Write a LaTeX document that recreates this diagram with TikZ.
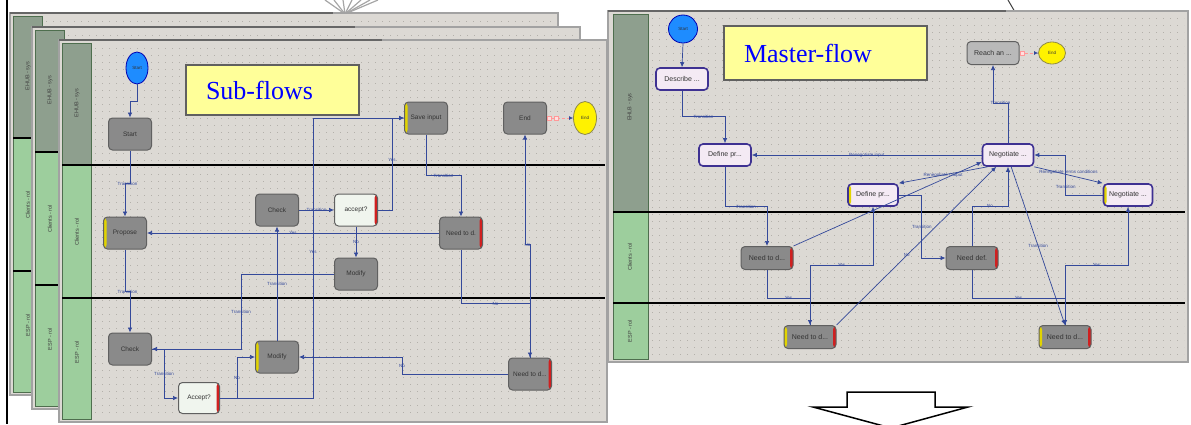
\documentclass[tikz,border=0pt]{standalone}
\usepackage{fontspec}
\setmainfont{Liberation Serif}
\newfontfamily\uifont{Liberation Sans}
\usetikzlibrary{arrows.meta,shapes.geometric}

\definecolor{canvas}{HTML}{DCD9D4}
\definecolor{griddot}{HTML}{B3B0AA}
\definecolor{framegray}{HTML}{A2A2A2}
\definecolor{headsys}{HTML}{8E9F8E}
\definecolor{headrol}{HTML}{9DCE9D}
\definecolor{headline}{HTML}{4E6E4E}
\definecolor{boxgray}{HTML}{8A8A8A}
\definecolor{boxline}{HTML}{606060}
\definecolor{flowblue}{HTML}{34499A}
\definecolor{startblue}{HTML}{1E8CFF}
\definecolor{notefill}{HTML}{FFFF99}
\definecolor{mline}{HTML}{3E3192}
\definecolor{mfill}{HTML}{F4EAF4}
\definecolor{tagyellow}{HTML}{E2D400}
\definecolor{tagred}{HTML}{D02020}
\definecolor{lightbox}{HTML}{F0F5EE}

\tikzset{
  flow/.style={draw=flowblue, line width=0.7pt, -{Latex[length=5pt,width=4.5pt]}},
  endlink/.style={draw=pink!80!red, densely dashed, line width=0.8pt, -{Latex[length=4pt,width=4pt,color=flowblue]}},
  port/.style={draw=pink!80!red, fill=pink!50, minimum size=4pt, inner sep=0pt},
  lbl/.style={font=\uifont\fontsize{4.5}{5}\selectfont, text=flowblue, inner sep=0.5pt},
  lane/.style={rotate=90, font=\uifont\fontsize{5.5}{6}\selectfont, text=black!75},
  griddots/.style={draw=griddot, line width=0.9pt, dash pattern=on 0.9pt off 6.1pt},
  sbox/.style={draw=boxline, fill=boxgray, line width=1pt, rounded corners=4pt, minimum width=43pt, minimum height=32pt, inner sep=1pt, font=\uifont\fontsize{6.5}{7}\selectfont, text=black!80},
  lbox/.style={sbox, fill=lightbox},
  gbox/.style={sbox, minimum width=52pt, minimum height=23pt, font=\uifont\fontsize{7}{8}\selectfont},
  mbox/.style={draw=mline, fill=mfill, line width=1.6pt, rounded corners=4pt, minimum width=52pt, minimum height=22pt, inner sep=1pt, font=\uifont\fontsize{7}{8}\selectfont, text=black!80},
  startell/.style={ellipse, draw=blue!70!black, fill=startblue, line width=0.8pt, minimum width=22pt, minimum height=32pt, inner sep=0pt, font=\uifont\fontsize{4.5}{5}\selectfont, text=black!80},
  endell/.style={startell, draw=yellow!50!black, fill=yellow},
  note/.style={draw=gray!75!black, fill=notefill, line width=1.5pt, inner xsep=20pt, inner ysep=0pt, align=left, text=blue, font=\fontsize{26}{28}\selectfont},
  ytag/.style={path picture={\fill[tagyellow] (path picture bounding box.north west) rectangle ([xshift=3pt]path picture bounding box.south west);}},
  rtag/.style={path picture={\fill[tagred] ([xshift=-3pt]path picture bounding box.north east) rectangle (path picture bounding box.south east);}},
  yrtag/.style={path picture={\fill[tagyellow] (path picture bounding box.north west) rectangle ([xshift=3pt]path picture bounding box.south west);
    \fill[tagred] ([xshift=-3pt]path picture bounding box.north east) rectangle (path picture bounding box.south east);}}
}

\begin{document}
\begin{tikzpicture}[x=1pt,y=-1pt]
  \useasboundingbox (0,0) rectangle (1191,424);
  % left rule and callout lines
  \draw[line width=1.5pt] (7,0) -- (7,424);
  \foreach \fx in {325,334,343,352,361,370,378}
    \draw[gray!70, line width=1.2pt] (345,14) -- (\fx,0);
  \draw[gray!50!black, line width=1pt] (1008,0) -- (1015,12);

  % stacked sub-flow windows
  \foreach \ox/\oy in {10/13,32/27,59/40}{
    \draw[framegray, fill=canvas, line width=2.5pt] (\ox,\oy) rectangle (\ox+548,\oy+382);
    \foreach \d in {0,7,...,364}
      \draw[griddots] (\ox+36,\oy+8+\d) -- (\ox+545,\oy+8+\d);
    \draw[black!60, line width=2.5pt] (\ox,\oy) -- (\ox+323,\oy);
    % lane headers
    \fill[headsys] (\ox+3,\oy+3) rectangle (\ox+32,\oy+125);
    \fill[headrol] (\ox+3,\oy+125) rectangle (\ox+32,\oy+379);
    \draw[headline, line width=1pt] (\ox+3,\oy+3) rectangle (\ox+32,\oy+379);
    % lane dividers
    \draw[line width=1.6pt] (\ox+3,\oy+125) -- (\ox+546,\oy+125);
    \draw[line width=1.6pt] (\ox+3,\oy+258) -- (\ox+546,\oy+258);
    \node[lane] (sys\ox) at (\ox+18,\oy+63) {EHUB - sys};
    \node[lane] (cli\ox) at (\ox+18,\oy+192) {Clients - rol};
    \node[lane] (esp\ox) at (\ox+18,\oy+312) {ESP - rol};
  }

  % master-flow window
  \draw[framegray, fill=canvas, line width=2.5pt] (608,11) rectangle (1188,362);
  \foreach \d in {0,7,...,336}
    \draw[griddots] (652,18+\d) -- (1184,18+\d);
  \draw[black!60, line width=2.5pt] (608,11) -- (1006,11);
  \fill[headsys] (613,14) rectangle (648,212);
  \fill[headrol] (613,212) rectangle (648,359);
  \draw[headline, line width=1pt] (613,14) rectangle (648,359);
  \draw[line width=1.6pt] (613,212) -- (1185,212);
  \draw[line width=1.6pt] (613,303) -- (1185,303);
  \node[lane] (msys) at (630,107) {EHLB - sys};
  \node[lane] (mcli) at (630,257) {Clients - rol};
  \node[lane] (mesp) at (630,331) {ESP - rol};

  % sub-flow nodes
  \node[note, text width=133pt, minimum height=50pt] (subnote) at (272.5,90) {Sub-flows};
  \node[startell] (sstart) at (137,68) {Start};
  \node[sbox] (sbox1) at (130,134) {Start};
  \node[sbox, ytag] (savein) at (426,118) {Save input};
  \node[sbox] (sendbox) at (525,118) {End};
  \node[endell, minimum width=23pt, minimum height=33pt] (sendell) at (585,118) {End};
  \node[sbox, ytag] (propose) at (125,233) {Propose};
  \node[sbox] (checkc) at (277,210) {Check};
  \node[lbox, rtag] (acceptc) at (356,210) {accept?};
  \node[sbox] (modifyc) at (356,274) {Modify};
  \node[sbox, rtag] (needc) at (461,233) {Need to d.};
  \node[sbox] (checke) at (130,349) {Check};
  \node[lbox, rtag, minimum width=41pt, minimum height=31pt] (accepte) at (199,398) {Accept?};
  \node[sbox, ytag] (modifye) at (277,357) {Modify};
  \node[sbox, rtag] (neede) at (530,374) {Need to d...};

  % sub-flow connectors
  \draw[flow] (sstart.south) -- ++(0,17) -| (sbox1.north);
  \draw[flow] (sbox1.south) -- ++(0,33) -| node[lbl,pos=.25] (l1) {Transition} (propose.north);
  \draw[flow] (propose.south) -- ++(0,42) -| node[lbl,pos=.25] (l2) {Transition} (checke.north);
  \draw[flow] (checkc.east) -- node[lbl] (l3) {Transition} (acceptc.west);
  \draw[flow] (acceptc.east) -| node[lbl,pos=.77] (l4) {Yes} (392,118) -- (savein.west);
  \draw[flow] (acceptc.south) -- node[lbl] (l5) {No} (modifyc.north);
  \draw[flow] (modifyc.west) -- ++(-93,0) |- node[lbl,pos=.25] (l6) {Transition} (checke.east);
  \draw[flow] (checke.east) -- ++(12,0) |- node[lbl,pos=.25] (l7) {Transition} (accepte.west);
  \draw[flow] (accepte.east) -| node[lbl,pos=.76] (l8) {Yes} (313,118) -- (savein.west);
  \draw[flow] (accepte.east) -- ++(17,0) |- node[lbl,pos=.25] (l9) {No} (modifye.west);
  \draw[flow] (modifye.north) -- node[lbl] (l10) {Transition} (checkc.south);
  \draw[flow] (neede.west) -- ++(-106,0) |- node[lbl,pos=.25] (l11) {No} (modifye.east);
  \draw[flow] (savein.south) -- ++(0,41) -| node[lbl,pos=.25] (l12) {Transition} (needc.north);
  \draw[flow] (needc.west) -- node[lbl] (l13) {Yes} (propose.east);
  \draw[flow] (needc.south) -- ++(0,54) -| node[lbl,pos=.25] (l14) {No} (neede.north);
  \draw[flow] (neede.north) -- ++(0,-113) -| node[lbl,pos=.25] (l15) {No} (sendbox.south);
  \draw[endlink] (sendbox.east) -- (sendell.west);
  \node[port] (sp1) at ([xshift=2.5pt]sendbox.east) {};
  \node[port] (sp2) at ([xshift=9pt]sendbox.east) {};

  % master-flow nodes
  \node[note, text width=163pt, minimum height=54pt] (mnote) at (825.5,53) {Master-flow};
  \node[startell, minimum width=29pt, minimum height=28pt] (mstart) at (683,29) {Start};
  \node[mbox] (describe) at (682,79) {Describe ...};
  \node[gbox, fill=gray!55] (reach) at (993,53) {Reach an ...};
  \node[endell, minimum width=27pt, minimum height=22pt] (mend) at (1052,53) {End};
  \node[mbox] (define1) at (725,155) {Define pr...};
  \node[mbox, minimum width=51pt] (nego1) at (1008,155) {Negotiate ...};
  \node[mbox, minimum width=50pt, ytag] (define2) at (873,195) {Define pr...};
  \node[mbox, minimum width=49pt, ytag] (nego2) at (1128,195) {Negotiate ...};
  \node[gbox, rtag] (needm1) at (767,258) {Need to d...};
  \node[gbox, rtag] (needdef) at (972,258) {Need def.};
  \node[gbox, yrtag] (needm2) at (810,337) {Need to d...};
  \node[gbox, yrtag] (needm3) at (1065,337) {Need to d...};

  % master-flow connectors
  \draw[flow] (mstart.south) -- (describe.north);
  \draw[flow] (describe.south) -- ++(0,26) -| node[lbl,pos=.25] (m1) {Transition} (define1.north);
  \draw[flow] (nego1.west) -- node[lbl] (m2) {Renegotiate input} (define1.east);
  \draw[flow] (nego1.north) -- ++(0,-40) -| node[lbl,pos=.25] (m3) {Transition} (reach.south);
  \draw[endlink] (reach.east) -- (mend.west);
  \node[port] (mp1) at ([xshift=2.5pt]reach.east) {};
  \draw[flow] (nego1.south east) -- node[lbl,above] (m4) {Renegotiate terms conditions} (nego2.north west);
  \draw[flow] (nego2.west) -- ++(-37,0) |- node[lbl,pos=.1] (m5) {Transition} (nego1.east);
  \draw[flow] (nego1.-150) -- node[lbl] (m6) {Renegotiate Output} (define2.north east);
  \draw[flow] (define2.east) -- ++(23,0) |- node[lbl,pos=.25] (m7) {Transition} (needdef.west);
  \draw[flow] (define1.south) -- ++(0,40) -| node[lbl,pos=.25] (m8) {Transition} (needm1.north);
  \draw[flow] (needm1.north east) -- (nego1.-165);
  \draw[flow] (needm2.north east) -- node[lbl,pos=.44] (m9) {No} (nego1.-135);
  \draw[flow] (needdef.north) -- ++(0,-40) -| node[lbl,pos=.25] (m10) {No} (nego1.south);
  \draw[flow] (nego1.-75) -- node[lbl] (m11) {Transition} (needm3.north);
  \draw[flow] (needm1.south) -- ++(0,28) -| node[lbl,pos=.25] (m12) {Yes} (needm2.north);
  \draw[flow] (needm2.north) -- ++(0,-60) -| node[lbl,pos=.25] (m13) {Yes} (define2.south);
  \draw[flow] (needdef.south) -- ++(0,28) -| node[lbl,pos=.25] (m14) {Yes} (needm3.north);
  \draw[flow] (needm3.north) -- ++(0,-60) -| node[lbl,pos=.25] (m15) {Yes} (nego2.south);

  % down arrow
  \draw[line width=1.5pt, fill=white] (847,407) -- (847,392) -- (935,392) -- (935,407)
    -- (968,407) -- (891,428) -- (813,407) -- cycle;
\end{tikzpicture}
\end{document}
